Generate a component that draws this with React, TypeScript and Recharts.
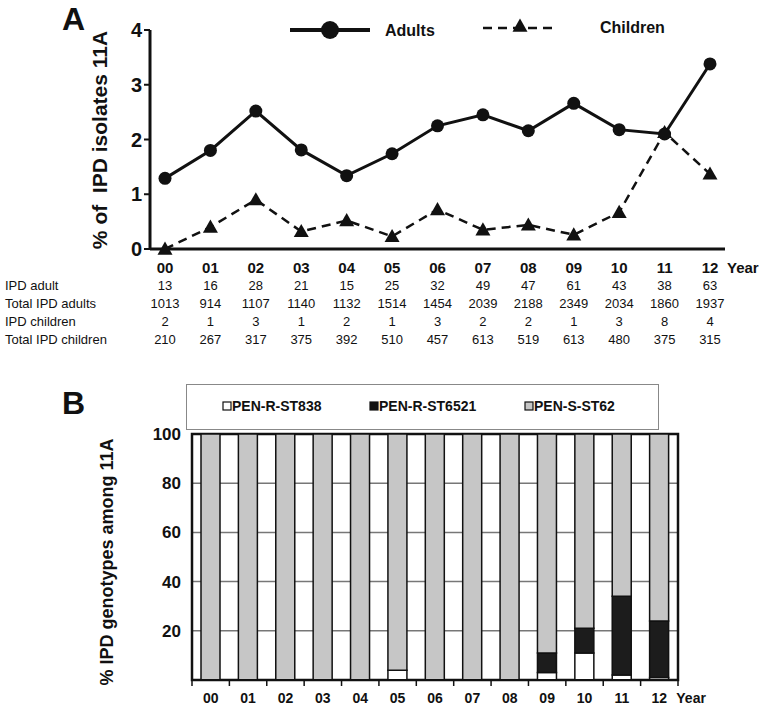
import { LineChart, Line, XAxis, YAxis, BarChart, Bar, CartesianGrid, ReferenceArea } from "recharts";

const years = ["00", "01", "02", "03", "04", "05", "06", "07", "08", "09", "10", "11", "12"];

// panel A: % of IPD isolates that are 11A
const adultPct = [1.29, 1.8, 2.52, 1.81, 1.34, 1.74, 2.25, 2.45, 2.16, 2.66, 2.18, 2.1, 3.38];
const childPct = [0, 0.4, 0.9, 0.32, 0.52, 0.23, 0.72, 0.35, 0.44, 0.26, 0.67, 2.13, 1.37];

const ipdAdult = [13, 16, 28, 21, 15, 25, 32, 49, 47, 61, 43, 38, 63];
const totalAdults = [1013, 914, 1107, 1140, 1132, 1514, 1454, 2039, 2188, 2349, 2034, 1860, 1937];
const ipdChildren = [2, 1, 3, 1, 2, 1, 3, 2, 2, 1, 3, 8, 4];
const totalChildren = [210, 267, 317, 375, 392, 510, 457, 613, 519, 613, 480, 375, 315];

const tableRows = [
  { label: "IPD adult", values: ipdAdult },
  { label: "Total IPD adults", values: totalAdults },
  { label: "IPD children", values: ipdChildren },
  { label: "Total IPD children", values: totalChildren },
];

// panel B: genotype split (%)
const st838 = [0, 0, 0, 0, 0, 4, 0, 0, 0, 3, 11, 2, 1];
const st6521 = [0, 0, 0, 0, 0, 0, 0, 0, 0, 8, 10, 32, 23];
const st62 = [100, 100, 100, 100, 100, 96, 100, 100, 100, 89, 79, 66, 76];

const FONT = "'Liberation Sans', Arial, Helvetica, sans-serif";
const NARROW = "'Liberation Sans Narrow', 'Arial Narrow', 'Liberation Sans', Arial, sans-serif";

const lineData = years.map((y, i) => ({ year: y, adults: adultPct[i], children: childPct[i] }));
const barData = years.map((y, i) => ({ year: y, st838: st838[i], st6521: st6521[i], st62: st62[i] }));

const B_LEFT = 192;
const B_RIGHT = 678;
const BAND_B = (B_RIGHT - B_LEFT) / years.length;

function Triangle(props: any) {
  const { cx, cy } = props;
  if (cx == null || cy == null) return null;
  const s = 7.5;
  return <path d={`M${cx},${cy - s} L${cx + s},${cy + s * 0.75} L${cx - s},${cy + s * 0.75} Z`} fill="#111" />;
}

function YearTickA(props: any) {
  const { x, y, payload, index } = props;
  const last = index === years.length - 1;
  return (
    <g>
      <text x={x} y={y} dy={16} textAnchor="middle" fontFamily={FONT} fontWeight="bold" fontSize={15} fill="#111">
        {payload.value}
      </text>
      {last && (
        <text x={x + 17} y={y} dy={16} textAnchor="start" fontFamily={FONT} fontWeight="bold" fontSize={15} fill="#111">
          Year
        </text>
      )}
      {tableRows.map((row, r) => (
        <text key={r} x={x} y={y} dy={33 + r * 18} textAnchor="middle" fontFamily={NARROW} fontSize={13} fill="#111">
          {row.values[index]}
        </text>
      ))}
      {index === 0 &&
        tableRows.map((row, r) => (
          <text key={"l" + r} x={5} y={y} dy={33 + r * 18} textAnchor="start" fontFamily={NARROW} fontSize={13} fill="#111">
            {row.label}
          </text>
        ))}
    </g>
  );
}

function YearTickB(props: any) {
  const { x, y, payload, index } = props;
  const last = index === years.length - 1;
  const half = BAND_B / 2;
  return (
    <g>
      <line x1={x - half} x2={x - half} y1={y - 8} y2={y - 2} stroke="#111" strokeWidth={1.5} />
      {last && <line x1={x + half} x2={x + half} y1={y - 8} y2={y - 2} stroke="#111" strokeWidth={1.5} />}
      <text x={x} y={y} dy={15} textAnchor="middle" fontFamily={FONT} fontWeight="bold" fontSize={14} fill="#111">
        {payload.value}
      </text>
      {last && (
        <text x={x + 17} y={y} dy={15} textAnchor="start" fontFamily={FONT} fontWeight="bold" fontSize={14} fill="#111">
          Year
        </text>
      )}
    </g>
  );
}

function LegendA() {
  return (
    <svg width={420} height={40} style={{ position: "absolute", left: 280, top: 10 }}>
      <line x1={10} x2={90} y1={20} y2={20} stroke="#111" strokeWidth={4} />
      <circle cx={50} cy={20} r={9} fill="#111" />
      <text x={105} y={26} fontFamily={NARROW} fontWeight="bold" fontSize={16} fill="#111">Adults</text>
      <line x1={203} x2={278} y1={18} y2={18} stroke="#111" strokeWidth={2.5} strokeDasharray="9 6" />
      <Triangle cx={240} cy={16} />
      <text x={320} y={23} fontFamily={NARROW} fontWeight="bold" fontSize={16} fill="#111">Children</text>
    </svg>
  );
}

function LegendB() {
  const items = [
    { label: "PEN-R-ST838", fill: "#fff", x: 41 },
    { label: "PEN-R-ST6521", fill: "#111", x: 188 },
    { label: "PEN-S-ST62", fill: "#c6c6c6", x: 343 },
  ];
  return (
    <svg width={473} height={46} style={{ position: "absolute", left: 186, top: 384 }}>
      <rect x={0.5} y={0.5} width={472} height={45} fill="#fff" stroke="#888" />
      {items.map((it) => (
        <g key={it.label}>
          <rect x={it.x - 4} y={18} width={8} height={8} fill={it.fill} stroke="#111" strokeWidth={1.2} />
          <text x={it.x + 5} y={27} fontFamily={FONT} fontWeight="bold" fontSize={14} fill="#111">{it.label}</text>
        </g>
      ))}
    </svg>
  );
}

function RotLabel({ text, cx, cy, w, size }: { text: string; cx: number; cy: number; w: number; size: number }) {
  return (
    <div
      style={{
        position: "absolute",
        left: cx - w / 2,
        top: cy - 12,
        width: w,
        height: 24,
        lineHeight: "24px",
        textAlign: "center",
        transform: "rotate(-90deg)",
        fontFamily: FONT,
        fontWeight: "bold",
        fontSize: size,
        color: "#111",
        whiteSpace: "pre",
      }}
    >
      {text}
    </div>
  );
}

const letterStyle = {
  position: "absolute" as const,
  left: 62,
  width: 28,
  height: 34,
  lineHeight: "34px",
  fontFamily: NARROW,
  fontWeight: "bold" as const,
  fontSize: 32,
  color: "#111",
};

export default function App() {
  return (
    <div style={{ position: "absolute", left: 0, top: 0, width: 768, height: 716, background: "#fff", overflow: "hidden" }}>
      <div style={{ ...letterStyle, top: 2 }}>A</div>
      <div style={{ ...letterStyle, top: 386 }}>B</div>

      <div style={{ position: "absolute", left: 0, top: 0 }}>
        <LineChart width={768} height={360} data={lineData} margin={{ top: 30, right: 43, left: 90, bottom: 0 }}>
          <XAxis
            dataKey="year"
            height={111}
            interval={0}
            padding={{ left: 15, right: 15 }}
            axisLine={{ stroke: "#111", strokeWidth: 3 }}
            tickLine={false}
            tick={<YearTickA />}
          />
          <YAxis
            width={60}
            domain={[0, 4]}
            ticks={[0, 1, 2, 3, 4]}
            axisLine={{ stroke: "#111", strokeWidth: 3 }}
            tickLine={{ stroke: "#111", strokeWidth: 2 }}
            tickSize={6}
            tick={{ fontFamily: FONT, fontWeight: "bold", fontSize: 20, fill: "#111" }}
          />
          <Line
            type="linear"
            dataKey="adults"
            stroke="#111"
            strokeWidth={3}
            dot={{ r: 6.5, fill: "#111", stroke: "#111", strokeWidth: 0 }}
            isAnimationActive={false}
          />
          <Line
            type="linear"
            dataKey="children"
            stroke="#111"
            strokeWidth={2.5}
            strokeDasharray="9 6"
            dot={<Triangle />}
            isAnimationActive={false}
          />
        </LineChart>
      </div>
      <LegendA />
      <RotLabel text="% of  IPD isolates 11A" cx={100} cy={140} w={260} size={21} />

      <LegendB />
      <div style={{ position: "absolute", left: 0, top: 380 }}>
        <BarChart
          width={768}
          height={336}
          data={barData}
          margin={{ top: 54, right: 768 - B_RIGHT, left: B_LEFT - 60, bottom: 0 }}
          barSize={19}
        >
          <CartesianGrid vertical={false} stroke="#777" strokeWidth={1.5} />
          <XAxis
            dataKey="year"
            height={36}
            interval={0}
            axisLine={{ stroke: "#111", strokeWidth: 2 }}
            tickLine={false}
            tick={<YearTickB />}
          />
          <YAxis
            width={60}
            domain={[0, 100]}
            ticks={[0, 20, 40, 60, 80, 100]}
            axisLine={{ stroke: "#111", strokeWidth: 2 }}
            tickLine={false}
            tickSize={8}
            tickMargin={3}
            tickFormatter={(v: number) => (v === 0 ? "" : String(v))}
            tick={{ fontFamily: FONT, fontWeight: "bold", fontSize: 17, fill: "#111" }}
          />
          <Bar dataKey="st838" stackId="g" fill="#fff" stroke="#111" strokeWidth={1.5} isAnimationActive={false} />
          <Bar dataKey="st6521" stackId="g" fill="#1c1c1c" stroke="#111" strokeWidth={1.5} isAnimationActive={false} />
          <Bar dataKey="st62" stackId="g" fill="#c6c6c6" stroke="#111" strokeWidth={1.5} isAnimationActive={false} />
          <ReferenceArea y1={0} y2={100} fill="none" stroke="#111" strokeWidth={2.5} />
        </BarChart>
      </div>
      <RotLabel text="% IPD genotypes among 11A" cx={107} cy={562} w={290} size={18} />
    </div>
  );
}
